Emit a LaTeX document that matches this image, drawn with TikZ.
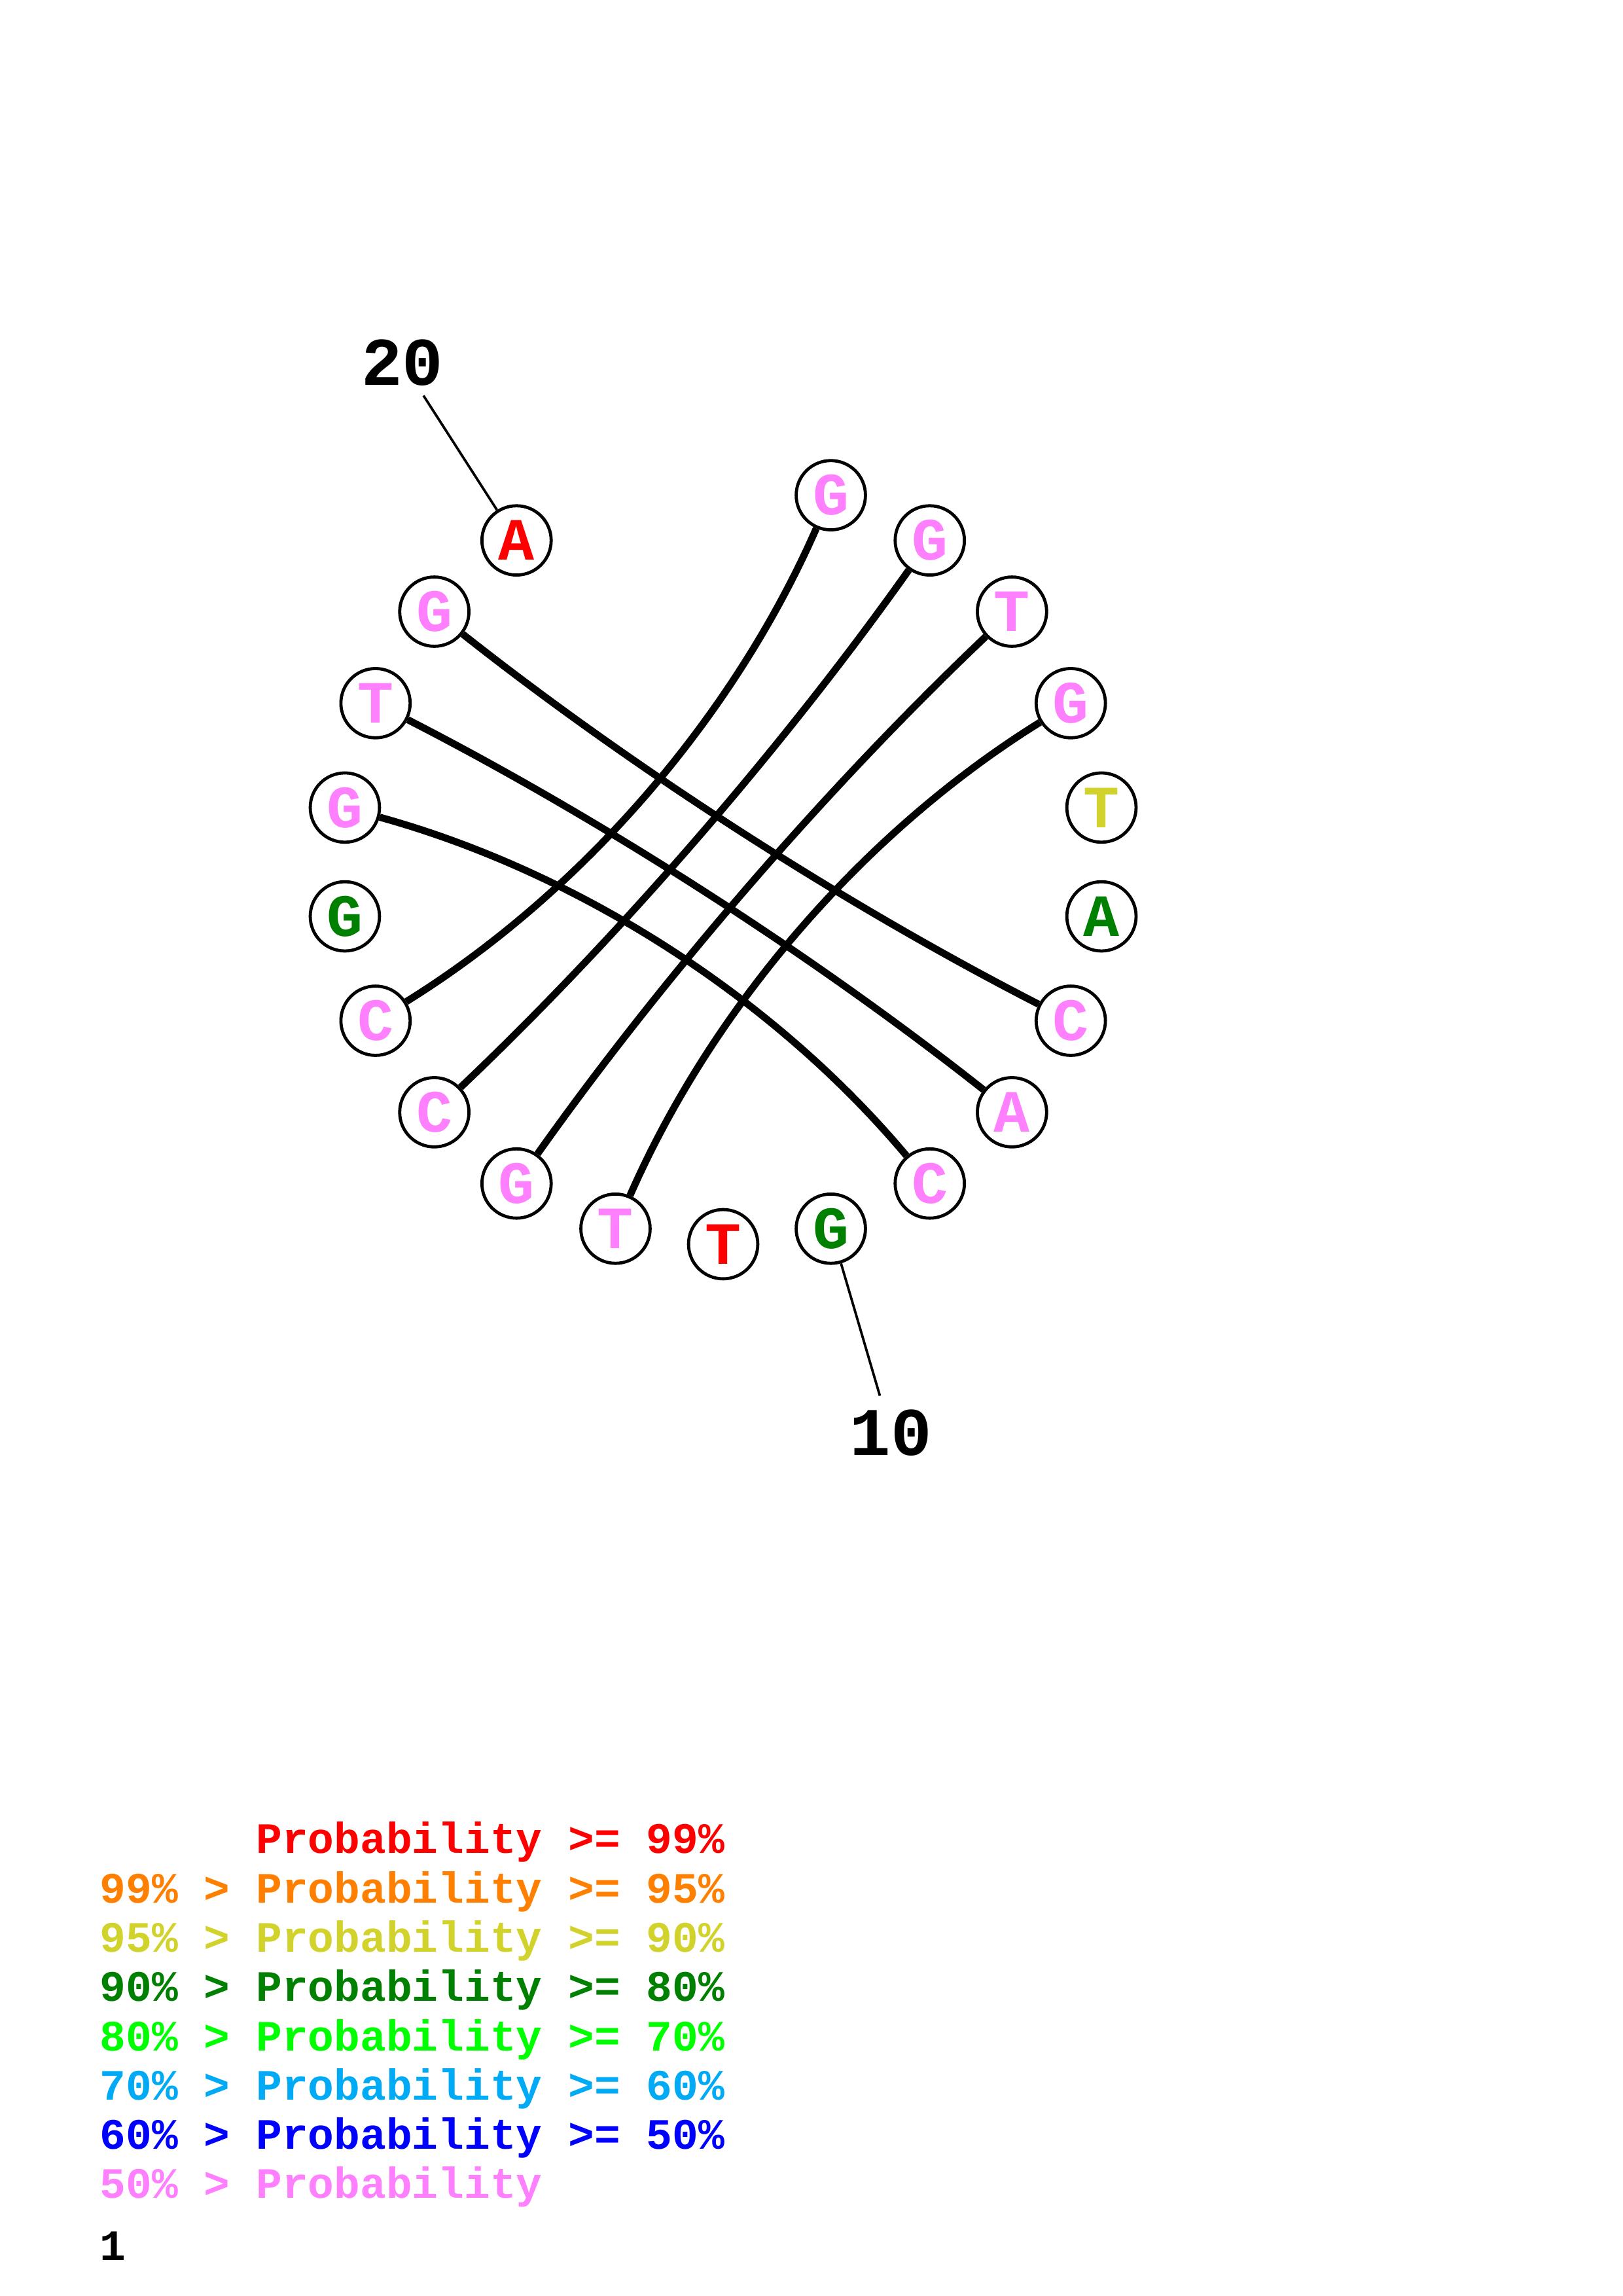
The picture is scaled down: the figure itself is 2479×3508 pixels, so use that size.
\documentclass[tikz,border=0pt]{standalone}
\usepackage{fontspec}
\newfontfamily\cour{Liberation Mono}
\usetikzlibrary{calc}
\definecolor{pk}{RGB}{255,128,255}
\definecolor{rd}{RGB}{255,0,0}
\definecolor{org}{RGB}{255,128,0}
\definecolor{yl}{RGB}{210,210,45}
\definecolor{dg}{RGB}{0,128,0}
\definecolor{lg}{RGB}{0,255,0}
\definecolor{lb}{RGB}{0,170,245}
\definecolor{bl}{RGB}{0,0,255}
\begin{document}
\begin{tikzpicture}[x=0.24pt,y=0.24pt,
  base/.style={circle,draw=black,line width=1.15pt,minimum size=25.4pt,inner sep=0pt,
    font=\cour\bfseries\fontsize{22}{22}\selectfont},
  pairarc/.style={line width=2.6pt},
  tick/.style={line width=0.9pt},
  numlab/.style={inner sep=0pt,font=\cour\bfseries\fontsize{25}{25}\selectfont},
  leg/.style={anchor=base west,inner sep=0pt,font=\cour\bfseries\fontsize{15.9}{15.9}\selectfont}]
\path[use as bounding box] (0,0) rectangle (2479,3508);
\coordinate (cen) at (1105,2191);
\foreach \k/\b/\c in {1/G/pk,2/G/pk,3/T/pk,4/G/pk,5/T/yl,6/A/dg,7/C/pk,8/A/pk,9/C/pk,10/G/dg,
  11/T/rd,12/T/pk,13/G/pk,14/C/pk,15/C/pk,16/G/dg,17/G/pk,18/T/pk,19/G/pk,20/A/rd}{
  \pgfmathsetmacro\ang{-90-(\k-11)*360/22}
  \node[base,text=\c] (n\k) at ($(cen)+(\ang:584)$) {\b};
}
% pairing arcs
\foreach \a/\b in {1/15,2/14,3/13,4/12,19/7,18/8,17/9}{
  \draw[pairarc] (n\a) .. controls ($0.44*(n\a)+0.10667*(n\b)+0.45333*(cen)$)
     and ($0.10667*(n\a)+0.44*(n\b)+0.45333*(cen)$) .. (n\b);
}
% number ticks
\coordinate (t20) at ($(cen)+(122.727:847)$);
\coordinate (t10) at ($(cen)+(-73.636:850)$);
\draw[tick] (n20) -- (t20);
\draw[tick] (n10) -- (t10);
\node[numlab] (lab20) at ($(cen)+(122.727:907)$) {20};
\node[numlab] (lab10) at ($(cen)+(-73.636:909)$) {10};
% legend
\node[leg,text=rd]  (r1) at (152,676) {\hphantom{99\% > }Probability >= 99\%};
\node[leg,text=org] (r2) at (152,600) {99\% > Probability >= 95\%};
\node[leg,text=yl]  (r3) at (152,525) {95\% > Probability >= 90\%};
\node[leg,text=dg]  (r4) at (152,450) {90\% > Probability >= 80\%};
\node[leg,text=lg]  (r5) at (152,374) {80\% > Probability >= 70\%};
\node[leg,text=lb]  (r6) at (152,299) {70\% > Probability >= 60\%};
\node[leg,text=bl]  (r7) at (152,224) {60\% > Probability >= 50\%};
\node[leg,text=pk]  (r8) at (152,149) {50\% > Probability};
\node[leg,text=black] (pg) at (152,54) {1};
\end{tikzpicture}
\end{document}
